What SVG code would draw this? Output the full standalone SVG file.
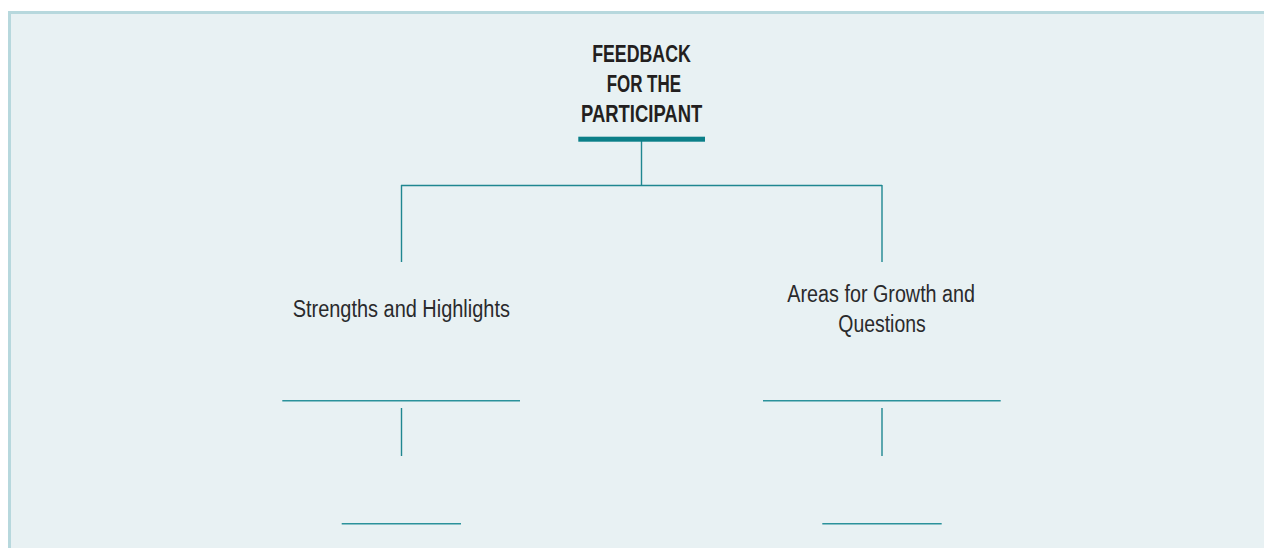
<svg xmlns="http://www.w3.org/2000/svg" width="1264" height="548" viewBox="0 0 1264 548">
  <style>
    .title { font-family: "Liberation Sans", Arial, sans-serif; font-weight: bold; font-size: 23px; fill: #231f20; text-anchor: middle; }
    .label { font-family: "Liberation Sans", Arial, sans-serif; font-size: 23px; fill: #2a2a2c; text-anchor: middle; }
    .link { stroke: #1f8790; stroke-width: 1.4; fill: none; }
    .blank { stroke: #2b929b; stroke-width: 1.6; fill: none; }
  </style>

  <!-- page and panel -->
  <rect x="0" y="0" width="1264" height="548" fill="#ffffff"/>
  <rect x="8" y="11" width="1256" height="537" fill="#b7d8dd"/>
  <rect x="11" y="14" width="1253" height="534" fill="#e8f1f3"/>

  <!-- connectors -->
  <g id="connectors">
    <line class="link" x1="641.5" y1="141" x2="641.5" y2="186"/>
    <line class="link" x1="401" y1="185.5" x2="882" y2="185.5"/>
    <line class="link" x1="401.5" y1="185" x2="401.5" y2="262"/>
    <line class="link" x1="882" y1="185" x2="882" y2="262"/>
    <line class="link" x1="401.5" y1="408" x2="401.5" y2="456"/>
    <line class="link" x1="882" y1="408" x2="882" y2="456"/>
  </g>

  <!-- root -->
  <g id="root">
    <text class="title" x="641.5" y="61.7" textLength="98.7" lengthAdjust="spacingAndGlyphs">FEEDBACK</text>
    <text class="title" x="643.8" y="91.7" textLength="74.3" lengthAdjust="spacingAndGlyphs">FOR THE</text>
    <text class="title" x="641.6" y="121.7" textLength="121.3" lengthAdjust="spacingAndGlyphs">PARTICIPANT</text>
    <rect x="578.3" y="136.7" width="126.7" height="5" fill="#0b7f88"/>
  </g>

  <!-- left branch -->
  <g id="strengths">
    <text class="label" x="401.3" y="316.7" textLength="217.3" lengthAdjust="spacingAndGlyphs">Strengths and Highlights</text>
    <line class="blank" x1="282.3" y1="400.7" x2="520" y2="400.7"/>
  </g>
  <g id="strengths-detail">
    <line class="blank" x1="341.7" y1="523.7" x2="461" y2="523.7"/>
  </g>

  <!-- right branch -->
  <g id="growth">
    <text class="label" x="881.2" y="301.7" textLength="187.7" lengthAdjust="spacingAndGlyphs">Areas for Growth and</text>
    <text class="label" x="882" y="331.7" textLength="87.4" lengthAdjust="spacingAndGlyphs">Questions</text>
    <line class="blank" x1="763" y1="400.7" x2="1000.7" y2="400.7"/>
  </g>
  <g id="growth-detail">
    <line class="blank" x1="822.3" y1="523.7" x2="941.7" y2="523.7"/>
  </g>
</svg>
